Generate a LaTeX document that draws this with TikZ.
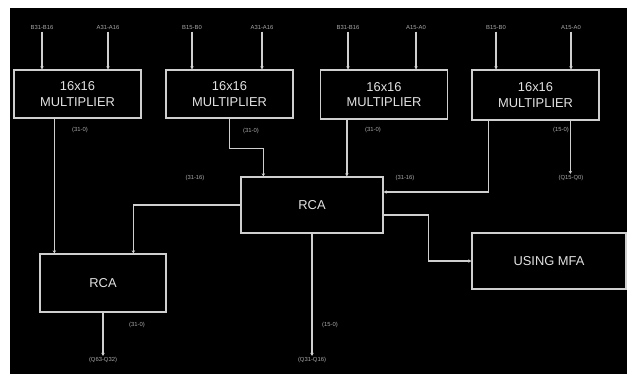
\documentclass[tikz,border=0pt]{standalone}
\usepackage{fontspec}
\setmainfont{Liberation Sans}
\definecolor{mBack}{HTML}{000000}
\definecolor{mWire}{HTML}{CFCFCF}
\definecolor{mText}{HTML}{E2E2E2}
\definecolor{mDim}{HTML}{A8A8A8}
\usetikzlibrary{positioning,arrows.meta,calc}
\tikzset{
  blockbox/.style={draw=mWire, line width=1.1pt, text=mText, align=center,
    font=\fontsize{11}{13}\selectfont, inner sep=0pt},
  tinylabel/.style={text=mDim, font=\fontsize{5}{6}\selectfont, inner sep=1pt},
  wire/.style={draw=mWire, line width=1.1pt, -{Stealth[length=2.6pt,width=3pt]}}
}
\newcommand{\mulnode}[4]{%
 \node[blockbox, minimum width=3.81cm, minimum height=#4cm] (#1) at (#2,#3) {16x16\\MULTIPLIER};}

\begin{document}
\begin{tikzpicture}[x=0.03cm, y=-0.03cm]
\useasboundingbox (0,0) rectangle (627,374);
\fill[white] (0,0) rectangle (627,374);
\fill[mBack] (10,8) rectangle (627,374);

% multipliers
\mulnode{m1}{77.5}{94}{1.44}
\mulnode{m2}{229.5}{94}{1.44}
\mulnode{m3}{384}{94.5}{1.47}
\mulnode{m4}{535.5}{95}{1.50}

% adders
\node[blockbox, minimum width=4.26cm, minimum height=1.68cm] (mrca) at (312,205) {RCA};
\node[blockbox, minimum width=3.78cm, minimum height=1.74cm] (lrca) at (103,283) {RCA};
\node[blockbox, minimum width=4.62cm, minimum height=1.68cm] (mfa) at (549,261) {USING MFA};

% operand labels
\node[tinylabel] (b1) at (42,27) {B31-B16};
\node[tinylabel] (a1) at (108,27) {A31-A16};
\node[tinylabel] (b2) at (192,27) {B15-B0};
\node[tinylabel] (a2) at (262,27) {A31-A16};
\node[tinylabel] (b3) at (348,27) {B31-B16};
\node[tinylabel] (a3) at (416,27) {A15-A0};
\node[tinylabel] (b4) at (496,27) {B15-B0};
\node[tinylabel] (a4) at (571,27) {A15-A0};

% bit range labels
\node[tinylabel] (r1) at (80,130) {(31-0)};
\node[tinylabel] (r2) at (251,131) {(31-0)};
\node[tinylabel] (r3) at (373,130) {(31-0)};
\node[tinylabel] (r4) at (561,130) {(15-0)};
\node[tinylabel] (r5) at (195,178) {(31-16)};
\node[tinylabel] (r6) at (405,178) {(31-16)};
\node[tinylabel] (r7) at (137,325) {(31-0)};
\node[tinylabel] (r8) at (330,325) {(15-0)};

% results
\node[tinylabel] (qlo) at (571,178) {(Q15-Q0)};
\node[tinylabel] (qhi) at (103,360) {(Q63-Q32)};
\node[tinylabel] (qmid) at (312,360) {(Q31-Q16)};

\foreach \lab/\blk in {b1/m1,a1/m1,b2/m2,a2/m2,b3/m3,a3/m3,b4/m4,a4/m4}
  \draw[wire] ([yshift=-1pt]\lab.south) -- (\lab.south |- \blk.north);

\draw[wire] ($(m1.south west)+(41,0)$) coordinate (t1) -- (t1 |- lrca.north);
\draw[wire] (m2.south) -- ++(0,30) -| ($(mrca.north west)+(23,0)$);
\draw[wire] ($(m3.south west)+(27,0)$) coordinate (t3) -- (t3 |- mrca.north);
\draw[wire] ($(m4.south west)+(17,0)$) |- ($(mrca.east)+(0,-13)$);
\draw[wire] ($(m4.south west)+(99,0)$) coordinate (t4) -- (t4 |- qlo.north);
\draw[wire] (mrca.west) -| ($(lrca.north west)+(94,0)$);
\draw[wire] ($(mrca.east)+(0,10)$) -- ++(45,0) |- (mfa.west);
\draw[wire] (lrca.south) -- (qhi.north);
\draw[wire] (mrca.south) -- (qmid.north);
\end{tikzpicture}
\end{document}
